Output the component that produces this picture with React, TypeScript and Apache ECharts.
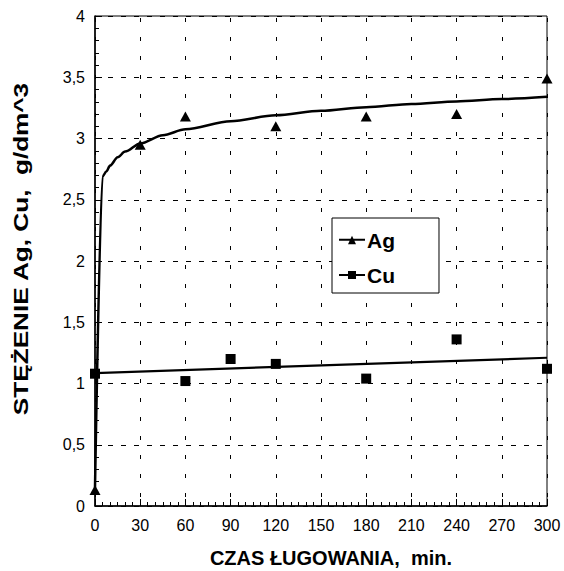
import React, { useEffect, useRef } from 'react';
import * as echarts from 'echarts';

// Measured points
const agTime = [0, 30, 60, 120, 180, 240, 300];
const agConc = [0.13, 2.95, 3.18, 3.1, 3.18, 3.2, 3.49];
const cuTime = [0, 60, 90, 120, 180, 240, 300];
const cuConc = [1.08, 1.02, 1.2, 1.16, 1.04, 1.36, 1.12];

// Trend lines
const agTrendTime = [0, 5, 7.5, 10, 15, 20, 30, 45, 60, 90, 120, 150, 180, 210, 240, 270, 300];
const agTrendConc = [0.15, 2.69, 2.73, 2.779, 2.846, 2.893, 2.96, 3.027, 3.075, 3.141, 3.189, 3.226, 3.256, 3.282, 3.303, 3.322, 3.34];
const cuTrendTime = [0, 300];
const cuTrendConc = [1.085, 1.21];

const seriesNames = ['Ag', 'Cu'];
const xTitle = 'CZAS ŁUGOWANIA,  min.';
const yTitle = 'STĘŻENIE Ag, Cu,  g/dm^3';

const FONT = "'Liberation Sans', Arial, Helvetica, sans-serif";

const zip = (a: number[], b: number[]) => a.map((v, i) => [v, b[i]]);

export default function App() {
  const ref = useRef<HTMLDivElement>(null);
  useEffect(() => {
    if (!ref.current) return;
    const chart = echarts.init(ref.current, undefined, { renderer: 'svg' });
    const agIcon = 'path://M0,6 L26,6 L26,8 L0,8 Z M9,11.5 L13,3 L17,11.5 Z';
    const cuIcon = 'path://M0,6 L26,6 L26,8 L0,8 Z M9,3 L17,3 L17,11 L9,11 Z';
    chart.setOption({
      animation: false,
      backgroundColor: '#fff',
      textStyle: { fontFamily: FONT, color: '#000' },
      grid: {
        left: 95,
        right: 17,
        top: 16,
        bottom: 65,
        show: true,
        borderColor: '#000',
        borderWidth: 1,
        backgroundColor: 'transparent',
      },
      graphic: [
        {
          type: 'text',
          x: 331,
          y: 557,
          scaleY: 1.05,
          style: {
            text: xTitle,
            fontFamily: FONT,
            fontSize: 20,
            fontWeight: 'bold',
            fill: '#000',
            align: 'center',
            verticalAlign: 'middle',
          },
        },
        {
          type: 'text',
          x: 21,
          y: 249,
          rotation: Math.PI / 2,
          scaleX: 1.245,
          style: {
            text: yTitle,
            fontFamily: FONT,
            fontSize: 21,
            fontWeight: 'bold',
            fill: '#000',
            align: 'center',
            verticalAlign: 'middle',
          },
        },
      ],
      legend: {
        orient: 'vertical',
        left: 332,
        top: 218,
        padding: [11, 44, 7, 7],
        backgroundColor: '#fff',
        borderColor: '#000',
        borderWidth: 1,
        borderRadius: 0,
        itemWidth: 26,
        itemHeight: 14,
        itemGap: 13,
        textStyle: { fontFamily: FONT, fontSize: 21, fontWeight: 'bold', color: '#000', lineHeight: 22, padding: [0, 0, 0, -3] },
        data: [
          { name: seriesNames[0], icon: agIcon, itemStyle: { color: '#000', opacity: 1 } },
          { name: seriesNames[1], icon: cuIcon, itemStyle: { color: '#000', opacity: 1 } },
        ],
      },
      xAxis: {
        type: 'value',
        min: 0,
        max: 300,
        interval: 30,
        axisLine: { show: true, lineStyle: { color: '#000', width: 1.5 } },
        axisTick: { show: true, inside: true, length: 7, lineStyle: { color: '#000', width: 1 } },
        minorTick: { show: true, splitNumber: 6, length: 4, lineStyle: { color: '#000', width: 1 } },
        axisLabel: { fontFamily: FONT, fontSize: 16, color: '#000', margin: 11 },
        splitLine: { show: true, lineStyle: { color: '#000', width: 1, type: [4, 15], dashOffset: -2 } },
      },
      yAxis: {
        type: 'value',
        min: 0,
        max: 4,
        interval: 0.5,
        axisLine: { show: true, lineStyle: { color: '#000', width: 1.5 } },
        axisTick: { show: true, inside: true, length: 7, lineStyle: { color: '#000', width: 1 } },
        minorTick: { show: true, splitNumber: 5, length: 4, lineStyle: { color: '#000', width: 1 } },
        axisLabel: {
          fontFamily: FONT,
          fontSize: 16,
          color: '#000',
          margin: 10,
          formatter: (v: number) => String(v).replace('.', ','),
        },
        splitLine: { show: true, lineStyle: { color: '#000', width: 1, type: [5, 8] } },
      },
      series: [
        {
          name: 'Ag trend',
          type: 'line',
          data: zip(agTrendTime, agTrendConc),
          showSymbol: false,
          smooth: 0.3,
          smoothMonotone: 'x',
          lineStyle: { color: '#000', width: 2.5 },
          z: 3,
        },
        {
          name: 'Cu trend',
          type: 'line',
          data: zip(cuTrendTime, cuTrendConc),
          showSymbol: false,
          lineStyle: { color: '#000', width: 2.2 },
          z: 3,
        },
        {
          name: seriesNames[0],
          type: 'scatter',
          data: zip(agTime, agConc),
          symbol: 'triangle',
          symbolSize: [11, 10],
          itemStyle: { color: '#000', opacity: 1 },
          z: 4,
        },
        {
          name: seriesNames[1],
          type: 'scatter',
          data: zip(cuTime, cuConc),
          symbol: 'rect',
          symbolSize: 10,
          itemStyle: { color: '#000', opacity: 1 },
          z: 4,
        },
      ],
    });
    return () => chart.dispose();
  }, []);
  return (
    <div
      ref={ref}
      style={{ position: 'absolute', left: 0, top: 0, width: 564, height: 571, background: '#fff' }}
    />
  );
}
